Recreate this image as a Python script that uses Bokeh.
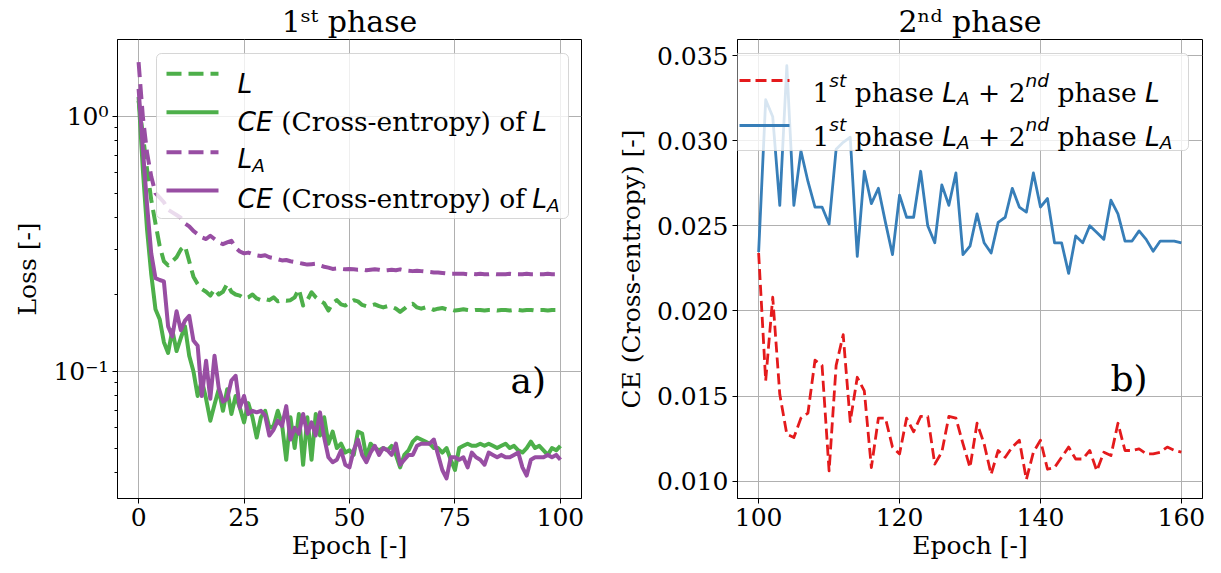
import math
from bokeh.plotting import figure
from bokeh.layouts import row
from bokeh.models import (Range1d, FixedTicker, CustomJSTickFormatter, NumeralTickFormatter,
                          Label, BoxAnnotation, Arrow)
from bokeh.embed import file_html
from bokeh.resources import INLINE

# ---------------- data: 1st phase ----------------
epochs_1 = list(range(0, 101))

loss_L = [
    1.15, 0.85, 0.62, 0.47, 0.38, 0.31, 0.27, 0.26, 0.27, 0.28,
    0.30, 0.31, 0.27, 0.235, 0.22, 0.21, 0.205, 0.198, 0.21, 0.20,
    0.205, 0.22, 0.205, 0.20, 0.198, 0.193, 0.195, 0.20, 0.193, 0.19,
    0.192, 0.19, 0.195, 0.188, 0.19, 0.189, 0.19, 0.195, 0.21, 0.181,
    0.19, 0.204, 0.195, 0.189, 0.185, 0.173, 0.185, 0.19, 0.183, 0.181,
    0.186, 0.19, 0.188, 0.182, 0.18, 0.181, 0.183, 0.18, 0.178, 0.18,
    0.179, 0.176, 0.171, 0.176, 0.182, 0.184, 0.178, 0.176, 0.178, 0.177,
    0.174, 0.176, 0.177, 0.175, 0.175, 0.173, 0.174, 0.175, 0.174, 0.173,
    0.174, 0.174, 0.173, 0.174, 0.174, 0.173, 0.174, 0.174, 0.173, 0.174,
    0.174, 0.173, 0.174, 0.174, 0.173, 0.174, 0.174, 0.173, 0.174, 0.174,
    0.174,
]

ce_L = [
    1.19, 0.62, 0.36, 0.24, 0.175, 0.16, 0.13, 0.118, 0.145, 0.12,
    0.135, 0.15, 0.115, 0.10, 0.08, 0.092, 0.078, 0.064, 0.074, 0.085,
    0.07, 0.085, 0.068, 0.08, 0.072, 0.063, 0.075, 0.066, 0.055, 0.066,
    0.07, 0.06, 0.061, 0.07, 0.062, 0.045, 0.066, 0.05, 0.068, 0.043,
    0.066, 0.045, 0.068, 0.056, 0.066, 0.052, 0.058, 0.05, 0.052, 0.048,
    0.049, 0.047, 0.058, 0.057, 0.046, 0.052, 0.05, 0.049, 0.05, 0.049,
    0.051, 0.047, 0.042, 0.047, 0.049, 0.053, 0.055, 0.054, 0.053, 0.052,
    0.05, 0.05, 0.048, 0.05, 0.045, 0.041, 0.05, 0.051, 0.052, 0.051,
    0.051, 0.052, 0.051, 0.052, 0.051, 0.05, 0.051, 0.052, 0.05, 0.051,
    0.049, 0.048, 0.05, 0.053, 0.05, 0.051, 0.049, 0.047, 0.05, 0.049,
    0.051,
]

loss_LA = [
    1.63, 1.0, 0.72, 0.58, 0.50, 0.48, 0.46, 0.43, 0.42, 0.41,
    0.40, 0.38, 0.37, 0.355, 0.345, 0.335, 0.33, 0.34, 0.33, 0.32,
    0.315, 0.32, 0.325, 0.305, 0.295, 0.29, 0.292, 0.288, 0.285, 0.283,
    0.285, 0.28, 0.278, 0.275, 0.272, 0.273, 0.27, 0.268, 0.266, 0.264,
    0.262, 0.263, 0.264, 0.26, 0.257, 0.255, 0.252, 0.253, 0.252, 0.251,
    0.252, 0.251, 0.25, 0.251, 0.249, 0.25, 0.251, 0.25, 0.248, 0.249,
    0.25, 0.249, 0.251, 0.249, 0.248, 0.247, 0.248, 0.247, 0.246, 0.245,
    0.244, 0.244, 0.243, 0.242, 0.241, 0.241, 0.241, 0.241, 0.240, 0.241,
    0.240, 0.241, 0.240, 0.240, 0.241, 0.240, 0.240, 0.240, 0.241, 0.240,
    0.240, 0.240, 0.241, 0.240, 0.240, 0.240, 0.240, 0.241, 0.240, 0.240,
    0.240,
]

ce_LA = [
    1.28, 0.75, 0.45, 0.29, 0.232, 0.228, 0.225, 0.15, 0.137, 0.172,
    0.145, 0.158, 0.165, 0.132, 0.126, 0.08, 0.11, 0.078, 0.115, 0.086,
    0.076, 0.078, 0.092, 0.096, 0.072, 0.08, 0.068, 0.07, 0.069, 0.07,
    0.067, 0.056, 0.059, 0.064, 0.061, 0.073, 0.054, 0.06, 0.057, 0.068,
    0.057, 0.063, 0.056, 0.069, 0.055, 0.046, 0.044, 0.045, 0.049, 0.043,
    0.042, 0.049, 0.054, 0.047, 0.044, 0.048, 0.051, 0.047, 0.05, 0.049,
    0.047, 0.052, 0.043, 0.045, 0.047, 0.047, 0.051, 0.052, 0.052, 0.052,
    0.054, 0.047, 0.041, 0.038, 0.046, 0.046, 0.045, 0.046, 0.042, 0.048,
    0.046, 0.045, 0.043, 0.048, 0.047, 0.046, 0.047, 0.046, 0.046, 0.047,
    0.048, 0.042, 0.039, 0.045, 0.046, 0.046, 0.046, 0.047, 0.046, 0.047,
    0.045,
]

# ---------------- data: 2nd phase ----------------
epochs_2 = list(range(100, 161))

ce_LA_then_L = [
    0.0234, 0.0159, 0.0208, 0.0151, 0.01275, 0.01256, 0.0137, 0.0140, 0.0171, 0.0168,
    0.0106, 0.0168, 0.0186, 0.0135, 0.0161, 0.0153, 0.0108, 0.0137, 0.0137, 0.0120,
    0.0116, 0.0137, 0.0129, 0.0138, 0.0138, 0.0110, 0.0117, 0.0138, 0.0137, 0.0122,
    0.0108, 0.0134, 0.0122, 0.0104, 0.0118, 0.0114, 0.0120, 0.0124, 0.0101, 0.0117,
    0.0124, 0.0107, 0.0108, 0.0114, 0.0120, 0.0113, 0.0113, 0.0118, 0.0106, 0.0117,
    0.0115, 0.0134, 0.0118, 0.0118, 0.0119, 0.0116, 0.0116, 0.0117, 0.0120, 0.0118,
    0.0117,
]

ce_LA_then_LA = [
    0.02345, 0.0324, 0.0314, 0.0262, 0.0344, 0.0262, 0.0294, 0.0276, 0.0261, 0.0261,
    0.0251, 0.0295, 0.0299, 0.0302, 0.0232, 0.0282, 0.0263, 0.0272, 0.0252, 0.0233,
    0.0268, 0.0255, 0.0255, 0.0282, 0.0250, 0.0240, 0.0274, 0.0262, 0.0281, 0.0233,
    0.0238, 0.0257, 0.0240, 0.0234, 0.0252, 0.0255, 0.0272, 0.0261, 0.0258, 0.0281,
    0.0261, 0.0266, 0.0240, 0.0240, 0.0222, 0.0244, 0.0240, 0.0250, 0.0246, 0.0242,
    0.0265, 0.0257, 0.0241, 0.0241, 0.0247, 0.0242, 0.0235, 0.0241, 0.0241, 0.0241,
    0.0240,
]

# ---------------- ticks / texts ----------------
x_ticks_1 = [0, 25, 50, 75, 100]
y_ticks_1 = [0.1, 1.0]
y_minor_1 = [0.04, 0.05, 0.06, 0.07, 0.08, 0.09, 0.2, 0.3, 0.4, 0.5, 0.6, 0.7, 0.8, 0.9]
x_ticks_2 = [100, 120, 140, 160]
y_ticks_2 = [0.010, 0.015, 0.020, 0.025, 0.030, 0.035]

title_1 = "1\u02e2\u1d57 phase"
title_2 = "2\u207f\u1d48 phase"
xlabel = "Epoch [-]"
ylabel_1 = "Loss [-]"
ylabel_2 = "CE (Cross-entropy) [-]"

GREEN = "#4daf4a"
PURPLE = "#984ea3"
RED = "#e41a1c"
BLUE = "#377eb8"
SERIF = "DejaVu Serif"
SANS = "DejaVu Sans"
FS = 25      # ticks / axis labels
FL = 26.5    # legend

W_SERIF = {' ': .318, '(': .390, ')': .390, '-': .338, '[': .390, ']': .390, '+': .838, '.': .318,
           'C': .715, 'E': .730, 'L': .637, 'a': .596, 'c': .560, 'd': .640, 'e': .592, 'f': .370,
           'h': .644, 'n': .644, 'o': .602, 'p': .640, 'r': .478, 's': .513, 't': .402, 'y': .565}
W_SANS = {' ': .318, '+': .838, 'C': .698, 'E': .632, 'L': .557, 'A': .684, 's': .521, 't': .392,
          'n': .634, 'd': .635}
for _d in "0123456789":
    W_SERIF[_d] = .636
    W_SANS[_d] = .636


def twidth(s, fam, size):
    tbl = W_SERIF if fam == SERIF else W_SANS
    return sum(tbl.get(c, .6) for c in s) * size


def rich(p, x, y, pieces, size):
    """Place a run of differently styled text pieces (inside the frame)."""
    s = 0.0
    for txt, kind in pieces:
        if kind == "r":
            fam, style, sz, dy = SERIF, "normal", size, 0.0
        elif kind == "i":
            fam, style, sz, dy = SANS, "italic", size, 0.0
        elif kind == "sup":
            fam, style, sz, dy = SANS, "italic", size * 0.7, 0.45 * size
        else:  # sub
            fam, style, sz, dy = SANS, "italic", size * 0.7, -0.24 * size
        w = twidth(txt, fam, sz)
        body = txt.lstrip(' ')
        lead = twidth(' ' * (len(txt) - len(body)), fam, sz)
        p.add_layout(Label(x=x + s + lead, y=y + dy, x_units="screen", y_units="screen",
                           text=body.rstrip(' '), text_font=fam, text_font_style=style,
                           text_font_size=f"{sz:.1f}px", text_color="black",
                           text_align="left", text_baseline="alphabetic"))
        s += w


def style(p, title_text, ylab, ylab_standoff):
    p.title.text = title_text
    p.title.align = "center"
    p.title.text_font = SERIF
    p.title.text_font_size = "30px"
    p.title.text_font_style = "normal"
    p.title.text_color = "black"
    p.title.standoff = 2
    p.outline_line_color = "black"
    p.outline_line_width = 1
    p.outline_line_alpha = 1
    for ax in (p.xaxis[0], p.yaxis[0]):
        ax.axis_line_color = "black"
        ax.axis_line_width = 1
        ax.major_tick_line_color = "black"
        ax.major_tick_line_width = 1
        ax.major_tick_out = 5
        ax.major_tick_in = 0
        ax.minor_tick_line_color = None
        ax.major_label_text_font = SERIF
        ax.major_label_text_font_size = f"{FS}px"
        ax.major_label_text_color = "black"
        ax.major_label_standoff = 4
        ax.axis_label_text_font = SERIF
        ax.axis_label_text_font_size = f"{FS}px"
        ax.axis_label_text_font_style = "normal"
        ax.axis_label_text_color = "black"
    p.xaxis.axis_label = xlabel
    p.xaxis.axis_label_standoff = 2
    p.yaxis.axis_label = ylab
    p.yaxis.axis_label_standoff = ylab_standoff
    p.grid.grid_line_color = "#b0b0b0"
    p.grid.grid_line_width = 1
    p.background_fill_color = "white"
    p.border_fill_color = "white"


def legend_box(p, left, right, top, bottom):
    p.add_layout(BoxAnnotation(left=left, right=right, top=top, bottom=bottom,
                               left_units="screen", right_units="screen",
                               top_units="screen", bottom_units="screen",
                               fill_color="white", fill_alpha=0.8,
                               line_color="#cccccc", line_alpha=0.8, line_width=1,
                               border_radius=5))


def sample(p, x0, x1, y, color, width, dash):
    p.add_layout(Arrow(start=None, end=None, x_start=x0, y_start=y, x_end=x1, y_end=y,
                       start_units="screen", end_units="screen",
                       line_color=color, line_width=width, line_dash=dash))


H = 570

# ---------------- left panel ----------------
p1 = figure(width=609, height=H, y_axis_type="log", toolbar_location=None,
            output_backend="svg", x_range=Range1d(-5, 105), y_range=Range1d(0.0317, 2.0),
            min_border_left=117, min_border_right=28, min_border_top=39, min_border_bottom=H - 39 - 459)
style(p1, title_1, ylabel_1, 8)
p1.xaxis.ticker = FixedTicker(ticks=x_ticks_1)
p1.yaxis.ticker = FixedTicker(ticks=y_ticks_1, minor_ticks=y_minor_1)
p1.yaxis.minor_tick_line_color = "black"
p1.yaxis.minor_tick_out = 3
p1.yaxis.minor_tick_in = 0
p1.yaxis.formatter = CustomJSTickFormatter(code="""
const e = Math.round(Math.log10(tick));
const sup = {'-': '\u207b', '0': '\u2070', '1': '\u00b9', '2': '\u00b2', '3': '\u00b3'};
return '10' + String(e).split('').map(c => sup[c]).join('');
""")

DASH1 = "15 7"
p1.line(epochs_1, loss_L, line_color=GREEN, line_width=4, line_dash=DASH1, line_join="round")
p1.line(epochs_1, ce_L, line_color=GREEN, line_width=4, line_join="round")
p1.line(epochs_1, loss_LA, line_color=PURPLE, line_width=4, line_dash=DASH1, line_join="round")
p1.line(epochs_1, ce_LA, line_color=PURPLE, line_width=4, line_join="round")

legend_box(p1, 39, 451, 445, 280)
rows1 = [
    (424.7, 415.3, GREEN, DASH1, [("L", "i")]),
    (386.3, 377.3, GREEN, None, [("CE", "i"), (" (Cross-entropy) of ", "r"), ("L", "i")]),
    (346.3, 339.7, PURPLE, DASH1, [("L", "i"), ("A", "sub")]),
    (308.0, 299.7, PURPLE, None, [("CE", "i"), (" (Cross-entropy) of ", "r"), ("L", "i"), ("A", "sub")]),
]
for ys, yb, col, dash, pcs in rows1:
    sample(p1, 49, 101, ys, col, 4, dash if dash else "solid")
    rich(p1, 120, yb, pcs, FL)

rich(p1, 393, 118, [("a)", "r")], 36)

# ---------------- right panel ----------------
p2 = figure(width=612, height=H, toolbar_location=None, output_backend="svg",
            x_range=Range1d(97, 163), y_range=Range1d(0.00898, 0.03594),
            min_border_left=128, min_border_right=19, min_border_top=39, min_border_bottom=H - 39 - 459)
style(p2, title_2, ylabel_2, 8)
p2.xaxis.ticker = FixedTicker(ticks=x_ticks_2)
p2.yaxis.ticker = FixedTicker(ticks=y_ticks_2)
p2.yaxis.formatter = NumeralTickFormatter(format="0.000")

DASH2 = "11 5"
p2.line(epochs_2, ce_LA_then_L, line_color=RED, line_width=2.8, line_dash=DASH2, line_join="round")
p2.line(epochs_2, ce_LA_then_LA, line_color=BLUE, line_width=2.8, line_join="round")

legend_box(p2, -8, 451, 445, 348)
rows2 = [
    (418, 406, RED, DASH2, [("1", "r"), ("st", "sup"), (" phase ", "r"), ("L", "i"), ("A", "sub"),
                            (" + 2", "r"), ("nd", "sup"), (" phase ", "r"), ("L", "i")]),
    (373, 362, BLUE, None, [("1", "r"), ("st", "sup"), (" phase ", "r"), ("L", "i"), ("A", "sub"),
                            (" + 2", "r"), ("nd", "sup"), (" phase ", "r"), ("L", "i"), ("A", "sub")]),
]
for ys, yb, col, dash, pcs in rows2:
    sample(p2, 2, 52, ys, col, 2.8, dash if dash else "solid")
    rich(p2, 75, yb, pcs, FL)

rich(p2, 373, 120, [("b)", "r")], 36)

layout = row(p1, p2)
open("out.html", "w").write(file_html(layout, INLINE))
